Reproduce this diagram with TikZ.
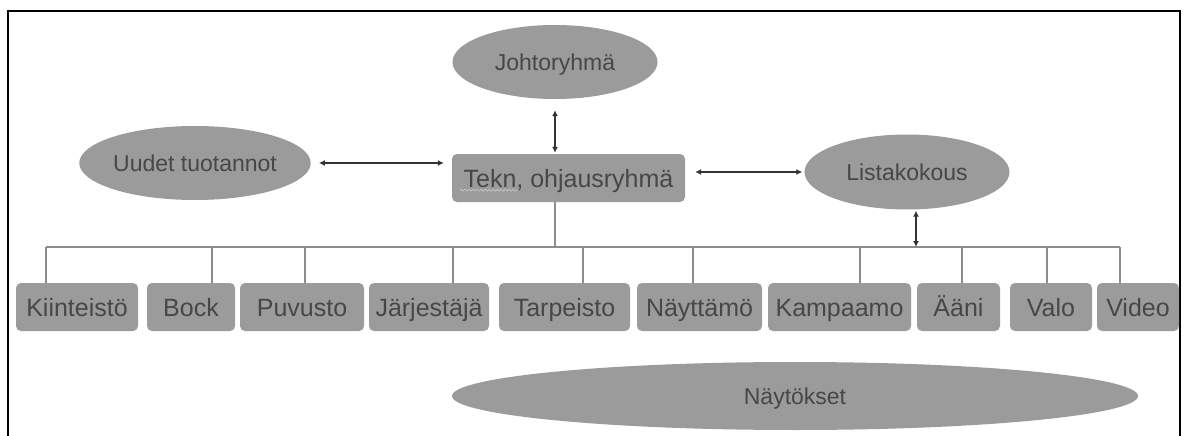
\documentclass[tikz,border=0pt]{standalone}
\usepackage{fontspec}
\setmainfont{Liberation Sans}
\usetikzlibrary{shapes.geometric,arrows.meta,decorations.pathmorphing}

\definecolor{shapefill}{HTML}{9B9B9B}
\definecolor{labeltext}{HTML}{474747}
\definecolor{treeline}{HTML}{8C8C8C}
\definecolor{arrowline}{HTML}{333333}

\tikzset{
  unitbox/.style={rectangle, rounded corners=5pt, fill=shapefill, draw=none,
    text=labeltext, inner sep=0pt, minimum height=48pt,
    text height=18pt, text depth=0pt,
    font=\fontsize{25}{30}\selectfont},
  oval/.style={ellipse, fill=shapefill, draw=none, text=labeltext, inner sep=0pt,
    text height=16.5pt, text depth=0pt,
    font=\fontsize{23}{27}\selectfont},
  tree/.style={draw=treeline, line width=1.2pt},
  link/.style={draw=arrowline, line width=1.3pt,
    {Latex[length=6pt,width=6pt]}-{Latex[length=6pt,width=6pt]}},
  squiggle/.style={draw=gray!45, line width=0.7pt,
    decorate, decoration={snake, segment length=4pt, amplitude=1pt}},
}

\begin{document}
\begin{tikzpicture}[x=1pt, y=-1pt]
  \useasboundingbox (0,0) rectangle (1187,436);
  \fill[white] (0,0) rectangle (1187,436);

  % open frame round the chart
  \draw[black, line width=2pt] (8,436) -- (8,11) -- (1180,11) -- (1180,436);

  % upper level
  \node[oval, minimum width=205pt, minimum height=74pt] (joh) at (555,62) {Johtoryhmä};
  \node[oval, minimum width=207pt, minimum height=74pt] (uu) at (195,163) {Uudet tuotannot};
  \node[oval, minimum width=205pt, minimum height=75pt] (lista) at (907,172) {Listakokous};
  \node[unitbox, minimum width=233pt] (tekn) at (568.5,178) {Tekn, ohjausryhmä};
  \draw[squiggle] ([xshift=8pt,yshift=12pt]tekn.south west) -- ++(57,0);

  % units
  \node[unitbox, minimum width=122pt] (u1) at (77,307) {Kiinteistö};
  \node[unitbox, minimum width=88pt]  (u2) at (191,307) {Bock};
  \node[unitbox, minimum width=124pt] (u3) at (302,307) {Puvusto};
  \node[unitbox, minimum width=120pt] (u4) at (429,307) {Järjestäjä};
  \node[unitbox, minimum width=131pt] (u5) at (564.5,307) {Tarpeisto};
  \node[unitbox, minimum width=125pt] (u6) at (699.5,307) {Näyttämö};
  \node[unitbox, minimum width=143pt] (u7) at (839.5,307) {Kampaamo};
  \node[unitbox, minimum width=83pt]  (u8) at (958.5,307) {Ääni};
  \node[unitbox, minimum width=82pt]  (u9) at (1051,307) {Valo};
  \node[unitbox, minimum width=82pt]  (u10) at (1138,307) {Video};

  \node[oval, minimum width=686pt, minimum height=68pt] (nay) at (795,396) {Näytökset};

  % tree: bus line and drops
  \foreach \n/\x in {1/46, 2/212, 3/305, 4/453, 5/583, 6/693, 7/860, 8/962, 9/1047, 10/1120}
    \coordinate (d\n) at (\x,247);
  \coordinate (stem) at (555,247);
  \coordinate (lk) at (916,247);
  \draw[tree] (d1) -- (d10);
  \foreach \n in {1,...,10}
    \draw[tree] (d\n) -- (d\n |- u\n.north);
  \draw[tree] (tekn.south -| stem) -- (stem);

  % two-way links
  \draw[link, shorten <=8pt, shorten >=8pt] (uu.east) -- (uu.east -| tekn.west);
  \draw[link, shorten <=11pt, shorten >=1pt] (joh.south) -- (tekn.north -| joh.south);
  \draw[link, shorten <=10pt, shorten >=2pt] (lista.west -| tekn.east) -- (lista.west);
  \draw[link, shorten <=1pt] (lk |- lista.south) -- (lk);
\end{tikzpicture}
\end{document}
